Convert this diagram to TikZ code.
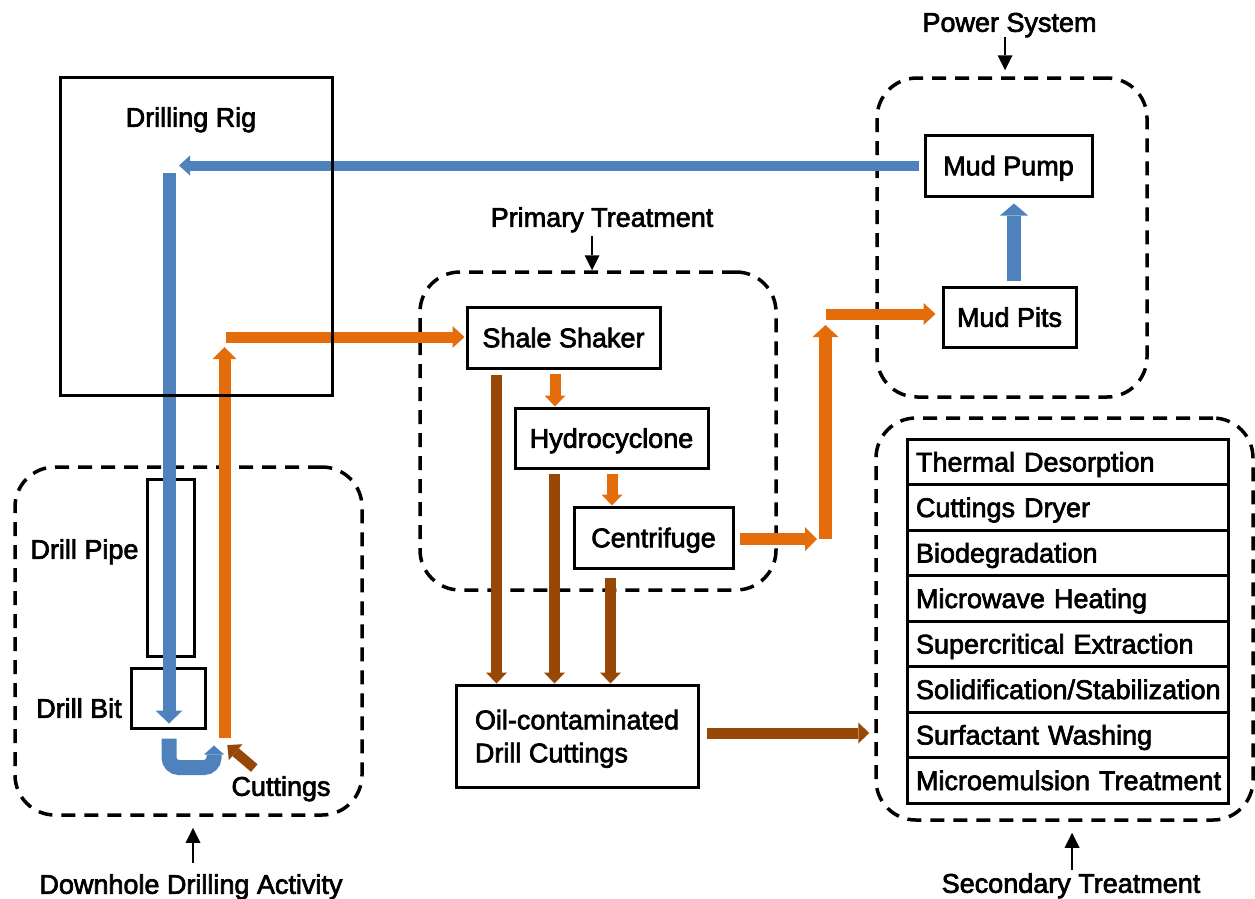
\documentclass[tikz,border=0pt]{standalone}
\usepackage{fontspec}
\setmainfont{Liberation Sans}[BoldFont={Liberation Sans},BoldFeatures={FakeBold=2.5}]
\usetikzlibrary{arrows.meta}
\definecolor{mudblue}{HTML}{4F81BD}
\definecolor{returnorange}{HTML}{E46C0A}
\definecolor{cutbrown}{HTML}{974706}

\begin{document}
\begin{tikzpicture}[x=1pt,y=-1pt,
    box/.style={draw,line width=3pt,inner sep=0pt,text height=19.5pt,text depth=0pt},
    group/.style={draw,line width=3.5pt,dash pattern=on 14pt off 9pt,rounded corners=40pt,inner sep=0pt},
    txt/.style={inner sep=0pt,text height=19.5pt,text depth=0pt},
    flow/.style={line width=12pt,-{Triangle[width=24pt,length=12pt,line width=0pt]}},
    mud/.style={flow,draw=mudblue},
    ret/.style={flow,draw=returnorange},
    cut/.style={draw=cutbrown,line width=11pt,-{Triangle[width=21pt,length=11pt,line width=0pt]}},
    tag/.style={line width=2.8pt,-{Triangle[width=15pt,length=15pt,line width=0pt]}},
    techrow/.style={draw,line width=3pt,minimum width=321pt,minimum height=45.5pt,text width=303pt,
                    inner xsep=9pt,align=left,text height=19.5pt,text depth=0pt}]
  \fontsize{27}{33}\selectfont\bfseries
  \useasboundingbox (0,0) rectangle (1255,898);

  % dashed groups
  \node[group,minimum width=347pt,minimum height=348pt] (downhole)  at (188.5,641) {};
  \node[group,minimum width=356pt,minimum height=318pt] (primary)   at (598,431) {};
  \node[group,minimum width=270pt,minimum height=319pt] (power)     at (1012,237.5) {};
  \node[group,minimum width=377pt,minimum height=402pt] (secondary) at (1064.5,619) {};

  \node[txt] (powertxt) at (1009.5,22)  {Power System};
  \node[txt] (primtxt)  at (602,217)    {Primary Treatment};
  \node[txt] (downtxt)  at (191,884)    {Downhole Drilling Activity};
  \node[txt] (sectxt)   at (1071,883)   {Secondary Treatment};

  \node[box,minimum width=47pt,minimum height=177pt] (pipe) at (170.5,567.5) {};
  \node[box,minimum width=74pt,minimum height=60pt]  (bit)  at (168,698) {};
  \node[txt] (rigtxt)  at (191,117)  {Drilling Rig};
  \node[txt] (pipetxt) at (84.5,549) {Drill Pipe};
  \node[txt] (bittxt)  at (79,708)   {Drill Bit};
  \node[txt] (cuttxt)  at (281,786)  {Cuttings};

  \node[box,minimum width=193pt,minimum height=61pt] (shaker) at (563.5,337.5) {Shale Shaker};
  \node[box,minimum width=193pt,minimum height=60pt] (hydro)  at (611.5,438)   {Hydrocyclone};
  \node[box,minimum width=159pt,minimum height=61pt] (centri) at (653.5,537.5) {Centrifuge};
  \node[draw,line width=3pt,minimum width=242pt,minimum height=102pt,align=left,text depth=0pt] (oil) at (577,736)
       {Oil-contaminated\\Drill Cuttings};
  \node[box,minimum width=167pt,minimum height=61pt] (pump) at (1008.5,165.5) {Mud Pump};
  \node[box,minimum width=133pt,minimum height=60pt] (pits) at (1009.5,317)   {Mud Pits};

  \foreach \tech [count=\k] in {Thermal Desorption,Cuttings Dryer,Biodegradation,Microwave Heating,
      Supercritical Extraction,Solidification/Stabilization,Surfactant Washing,Microemulsion Treatment}
    \node[techrow] (tech\k) at (1067.5,{439+45.5*(\k-0.5)}) {\mbox{\tech}};

  % mud circulation
  \coordinate (pipetop) at (169,173);
  \draw[mud,line width=10pt,-{Triangle[width=20pt,length=11pt,line width=0pt]},shorten <=5pt,shorten >=10pt]
       (pump.west) -- (pump.west -| pipetop);
  \draw[mud,line width=13pt,-{Triangle[width=27pt,length=13pt,line width=0pt]},shorten >=6pt]
       (pipetop) -- (pipetop |- bit.south);
  \draw[mud,line width=15pt,rounded corners=10pt,-{Triangle[width=20pt,length=9pt,line width=0pt]}]
       (bit.south) ++(1,9) -- ++(0,29) -- ++(45,0) -- ++(0,-22);
  \draw[mud,line width=14pt,-{Triangle[width=28pt,length=12pt,line width=0pt]},shorten >=6pt]
       (pits.north) ++(4.5,-5) coordinate (m1) -- (m1 |- pump.south);

  % returns
  \coordinate (annbot) at (224.5,738);
  \coordinate (surface) at (226,337);
  \coordinate (riser) at (825.5,539);
  \coordinate (risertop) at (825.5,314);
  \draw[ret,shorten >=10pt] (annbot) -- (annbot |- surface);
  \draw[ret,line width=11pt,-{Triangle[width=22pt,length=12pt,line width=0pt]},shorten >=1pt]
       (surface) -- (surface -| shaker.west);
  \draw[ret,line width=11pt,-{Triangle[width=21pt,length=11pt,line width=0pt]}]
       (shaker.south) ++(-8.5,4) coordinate (s1) -- (s1 |- hydro.north);
  \draw[ret,line width=11pt,-{Triangle[width=21pt,length=11pt,line width=0pt]}]
       (hydro.south) ++(0.5,4) coordinate (s2) -- (s2 |- centri.north);
  \draw[ret,shorten <=5pt,shorten >=8.5pt] (centri.east |- riser) -- (riser);
  \draw[ret,line width=13pt,-{Triangle[width=26pt,length=12pt,line width=0pt]},shorten >=11pt]
       (riser) -- (risertop);
  \draw[ret,line width=11pt,-{Triangle[width=22pt,length=12pt,line width=0pt]},shorten >=6pt]
       (risertop) -- (risertop -| pits.west);

  % cuttings
  \draw[cut,line width=10pt] (cuttxt.north west) ++(23,-8) -- ++(-27,-23);
  \draw[cut] (shaker.south west) ++(31,5) coordinate (c1) -- (c1 |- oil.north);
  \draw[cut] (hydro.south west) ++(41,4) coordinate (c2) -- (c2 |- oil.north);
  \draw[cut] (centri.south west) ++(38,8) coordinate (c3) -- (c3 |- oil.north);
  \draw[cut,shorten >=5pt] (oil.east) ++(7,-3) coordinate (c4) -- (c4 -| secondary.west);

  \draw[tag,shorten >=6pt]  (powertxt.south) ++(-4.5,5) coordinate (t1) -- (t1 |- power.north);
  \draw[tag]                (primtxt.south) ++(-10,9) coordinate (t2) -- (t2 |- primary.north);
  \draw[tag,shorten >=11pt] (downtxt.north) ++(2,-11) coordinate (t3) -- (t3 |- downhole.south);
  \draw[tag,shorten >=11pt] (sectxt.north) ++(1,-3) coordinate (t4) -- (t4 |- secondary.south);

  \node[draw,line width=3pt,minimum width=272pt,minimum height=318pt] (rig) at (196,236) {};
\end{tikzpicture}
\end{document}
